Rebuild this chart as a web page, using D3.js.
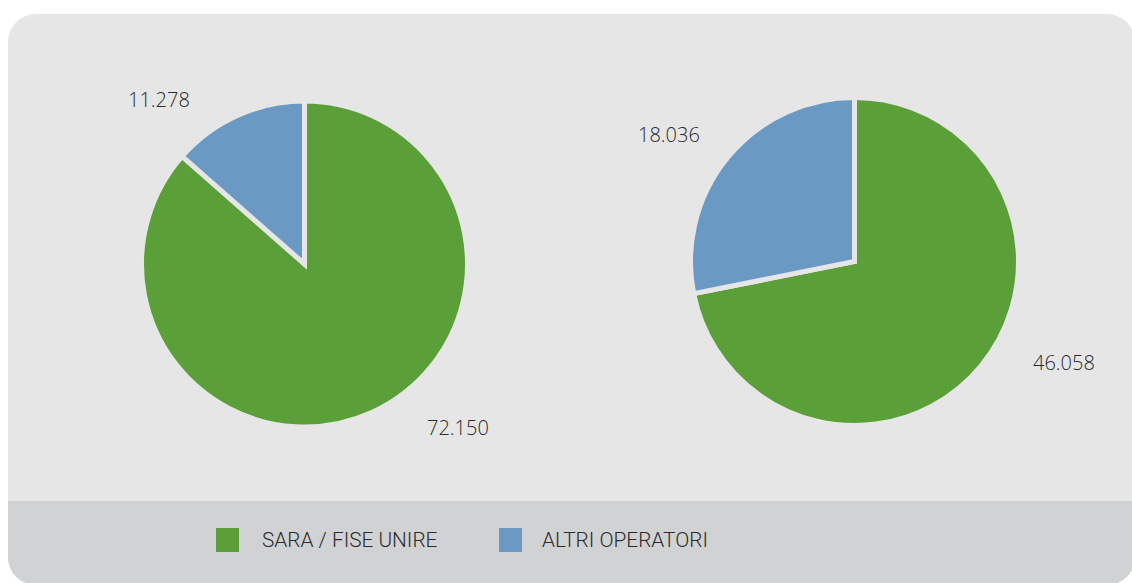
<!DOCTYPE html>
<html>
<head>
<meta charset="utf-8">
<script src="https://cdn.jsdelivr.net/npm/d3@7"></script>
<style>
  html, body { margin: 0; padding: 0; background: #ffffff; }
  svg { display: block; }
  text { font-family: "Open Sans", "DejaVu Sans", sans-serif; font-weight: 300; fill: #2a2a2a; }
  .legend text { font-family: Roboto, "Open Sans", sans-serif; font-weight: 300; fill: #2b2b2b; }
</style>
</head>
<body>
<svg id="chart" width="1132" height="583"></svg>
<script>
// ---- data ----
const categories = ["SARA / FISE UNIRE", "ALTRI OPERATORI"];
const pieLeftValues = [72.150, 11.278];
const pieRightValues = [46.058, 18.036];
const pieLeftLabels = ["72.150", "11.278"];
const pieRightLabels = ["46.058", "18.036"];
const colors = ["#5b9f38", "#6a9ac4"];

// ---- layout ----
const W = 1132, H = 583;
const svg = d3.select("#chart");
const bg = "#e6e6e6";

const defs = svg.append("defs");
defs.append("clipPath").attr("id", "panel")
  .append("rect").attr("x", 8).attr("y", 14).attr("width", 1127).attr("height", 571).attr("rx", 28);

const panel = svg.append("g").attr("clip-path", "url(#panel)");
panel.append("rect").attr("x", 8).attr("y", 14).attr("width", W).attr("height", H).attr("fill", bg);
panel.append("rect").attr("x", 8).attr("y", 501).attr("width", W).attr("height", 100).attr("fill", "#d1d2d4");

const pie = d3.pie().sort(null).value(d => d);
const color = d3.scaleOrdinal().domain(d3.range(categories.length)).range(colors);

const pies = [
  { values: pieLeftValues, labels: pieLeftLabels, cx: 304.5, cy: 264, r: 163,
    labelPos: [[427, 435], [128, 107]] },
  { values: pieRightValues, labels: pieRightLabels, cx: 854.5, cy: 261.5, r: 164,
    labelPos: [[1033, 370], [638, 142]] }
];

pies.forEach(p => {
  const arc = d3.arc().innerRadius(0).outerRadius(p.r);
  const g = svg.append("g").attr("transform", `translate(${p.cx},${p.cy})`);
  g.selectAll("path").data(pie(p.values)).join("path")
    .attr("d", arc)
    .attr("fill", (d, i) => color(i))
    .attr("stroke", bg)
    .attr("stroke-width", 5)
    .attr("stroke-linejoin", "miter");
  svg.selectAll(null).data(p.labels).join("text")
    .attr("x", (d, i) => p.labelPos[i][0])
    .attr("y", (d, i) => p.labelPos[i][1])
    .attr("font-size", 20)
    .text(d => d);
});

// ---- legend ----
const legendPos = [[216, 262], [499, 542]];
const lg = svg.append("g").attr("class", "legend");
categories.forEach((c, i) => {
  lg.append("rect").attr("x", legendPos[i][0]).attr("y", 528).attr("width", 23).attr("height", 24)
    .attr("fill", color(i));
  lg.append("text").attr("x", legendPos[i][1]).attr("y", 547)
    .attr("font-size", 20.8).text(c);
});
</script>
</body>
</html>
